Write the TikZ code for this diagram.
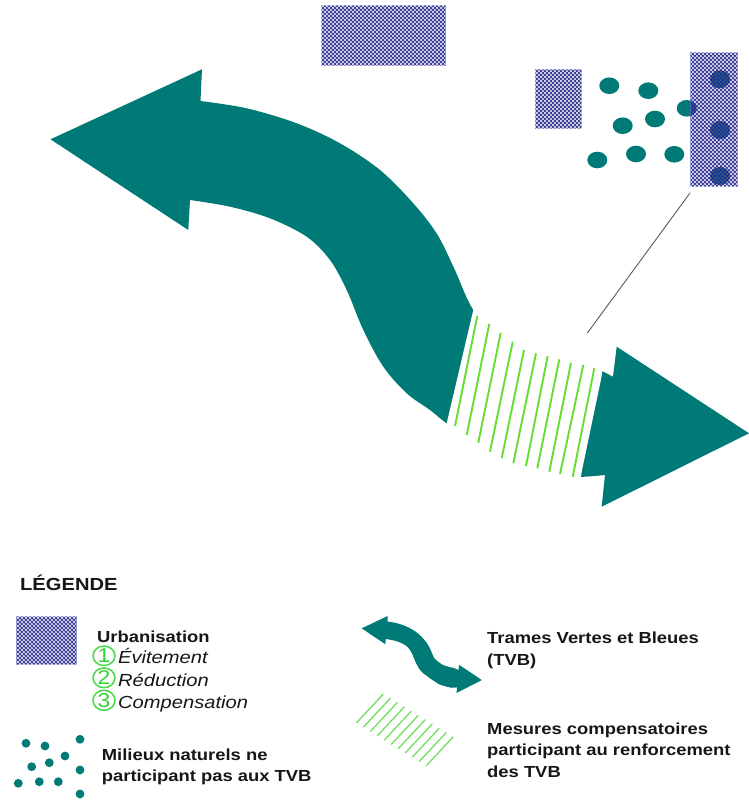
\documentclass[tikz,border=0pt]{standalone}
\usepackage{fontspec}
\setmainfont{Liberation Sans}[FakeStretch=1.15]
\usetikzlibrary{shapes.geometric,patterns.meta}

\definecolor{tealc}{RGB}{0,122,118}
\definecolor{urbblue}{RGB}{62,62,150}
\definecolor{urbedge}{RGB}{140,140,205}
\definecolor{navyc}{RGB}{15,50,130}
\definecolor{hatchg}{RGB}{100,222,50}
\definecolor{hatchl}{RGB}{115,222,95}
\definecolor{cgreen}{RGB}{50,210,50}
\definecolor{txt}{RGB}{22,22,22}
\definecolor{linegray}{RGB}{90,90,90}

\tikzdeclarepattern{
  name=urbdots,
  type=uncolored,
  bounding box={(0pt,0pt) and (4.4pt,4.4pt)},
  tile size={(4.4pt,4.4pt)},
  code={
    \pgfpathcircle{\pgfqpoint{1.1pt}{1.1pt}}{1.2pt}
    \pgfpathcircle{\pgfqpoint{3.3pt}{3.3pt}}{1.2pt}
    \pgfusepath{fill}
  }
}

\newcommand\tvbfullpath{%
  (50.5,139.3) -- (202,69.3) -- (200.5,101)
  -- plot[smooth,tension=0.55] coordinates {(200.5,101) (246.7,108.3) (296.7,123.3) (340,143.3) (380,170) (413,203) (437,234) (454,268) (473.3,310) (497,330) (524,348) (560,359) (590,366) (613,376.7)}
  -- (616.7,346.7) -- (749,433.3) -- (601.7,506.7) -- (605,475)
  -- plot[smooth,tension=0.55] coordinates {(605,475) (573,477) (549,472) (526,466) (502,458) (478,443) (446.7,423.3) (430,410) (406.7,393.3) (383.3,366.7) (363.3,330) (346.7,290) (330,260) (306.7,236.7) (270,218.3) (230,206.7) (190,200)}
  -- (188.3,230) -- cycle}

\begin{document}
\begin{tikzpicture}[x=1pt,y=-1pt,
  urb/.style={rectangle, fill=urbblue, draw=urbedge, line width=0.6pt,
    postaction={pattern=urbdots, pattern color=white}, inner sep=0pt},
  urbplain/.style={rectangle, fill=urbblue, inner sep=0pt},
  tdot/.style={ellipse, fill=tealc, inner sep=0pt, minimum width=20pt, minimum height=16.6pt},
  ldot/.style={circle, fill=tealc, inner sep=0pt, minimum size=8.8pt},
  hatchmain/.style={draw=hatchg, line width=1.9pt},
  hatchleg/.style={draw=hatchl, line width=1.3pt},
  lbl/.style={inner sep=0pt, anchor=base west, text=txt, font=\fontsize{16}{19}\selectfont\bfseries},
  ilbl/.style={inner sep=0pt, anchor=base west, text=txt, font=\fontsize{17.5}{20}\selectfont\itshape},
  circnum/.style={ellipse, draw=cgreen!85, line width=1.6pt, text=cgreen, inner sep=0pt,
    minimum width=22pt, minimum height=19.5pt, font=\fontsize{20}{20}\selectfont},
  grayline/.style={draw=linegray, line width=0.9pt}
]
\useasboundingbox (0,0) rectangle (749,803);

% ---------- main TVB arrow ----------
\fill[tealc] \tvbfullpath;
% gap for the compensation measures
\fill[white] (473.3,310) -- (480,290) -- (605,350) -- (601.7,376) -- (581.7,471.7)
  -- (578,495) -- (440,445) -- (446.7,423.3) -- cycle;
\foreach \ax/\ay/\bx/\by in {477.3/316/455/426, 489.3/324/466.7/435, 500.7/332.7/478.3/442.7,
  512.7/341.7/490/451.7, 524/350/501.7/458.3, 536/353.3/513.3/463.3, 547.7/356/526/466,
  559.3/359.3/537.3/468.3, 571/362.7/549.3/471.7, 583.3/365/560/474, 594.3/368.3/572.7/476.7}
  \draw[hatchmain] (\ax,\ay) -- (\bx,\by);

% ---------- urbanisation blocks ----------
\node[urb, minimum width=124pt, minimum height=60pt] (urbTop) at (383,35) {};
\node[urb, minimum width=46.7pt, minimum height=59pt] (urbSmall) at (558.3,98.8) {};

% natural areas (dots)
\node[tdot] (d1) at (609.3,85.7) {};
\node[tdot] (d2) at (648.3,90.7) {};
\node[tdot] (d3) at (686.7,108.3) {};
\node[tdot] (d4) at (622.7,125.7) {};
\node[tdot] (d5) at (655,119) {};
\node[tdot] (d6) at (597.3,160) {};
\node[tdot] (d7) at (636,154) {};
\node[tdot] (d8) at (674.3,154.3) {};

% tall block with dots underneath
\node[urb, minimum width=46.6pt, minimum height=134pt] (urbRight) at (714,119.7) {};
\begin{scope}
  \clip (urbRight.south west) rectangle (urbRight.north east);
  \fill[navyc, opacity=0.8] (686.7,108.3) ellipse [x radius=10, y radius=8.3];
  \fill[navyc, opacity=0.8] (720,79.3) ellipse [x radius=10, y radius=9];
  \fill[navyc, opacity=0.8] (720,130) ellipse [x radius=10, y radius=9];
  \fill[navyc, opacity=0.8] (720,176) ellipse [x radius=10, y radius=9];
\end{scope}

\coordinate (lineA) at (690,193);
\coordinate (lineB) at (587.4,333);
\draw[grayline] (lineA) -- (lineB);

% ---------- legend ----------
\node[lbl, font=\fontsize{17.5}{20}\selectfont\bfseries] (legTitle) at (20,590) {LÉGENDE};

\node[urb, minimum width=59.3pt, minimum height=48pt] (legUrb) at (46.35,640) {};
\node[lbl] (tUrb) at (97,642) {Urbanisation};
\node[circnum] (n1) at (104,655.8) {1};
\node[circnum] (n2) at (104,677.8) {2};
\node[circnum] (n3) at (104,700.3) {3};
\node[ilbl] (tEvit) at (118,663.5) {Évitement};
\node[ilbl] (tRed) at (118,686) {Réduction};
\node[ilbl] (tComp) at (118,708.3) {Compensation};

\node[ldot] (l1) at (26,743.3) {};
\node[ldot] (l2) at (45,746) {};
\node[ldot] (l3) at (80,739.3) {};
\node[ldot] (l4) at (65,756) {};
\node[ldot] (l5) at (31.7,766.7) {};
\node[ldot] (l6) at (49.3,762.7) {};
\node[ldot] (l7) at (80,770) {};
\node[ldot] (l8) at (18.3,783.3) {};
\node[ldot] (l9) at (39.3,781.7) {};
\node[ldot] (l10) at (58.3,781.7) {};
\node[ldot] (l11) at (80,794) {};
\node[lbl] (tMil1) at (101.7,760) {Milieux naturels ne};
\node[lbl] (tMil2) at (101.7,781.5) {participant pas aux TVB};

\begin{scope}[shift={(353,603.8)}, xscale=0.172, yscale=0.176]
  \fill[tealc] \tvbfullpath;
\end{scope}
\node[lbl] (tTvb1) at (487,643) {Trames Vertes et Bleues};
\node[lbl] (tTvb2) at (487,665) {(TVB)};

\foreach \i in {0,...,10}
  \draw[hatchleg] ({383.3+7*\i},{694+4.27*\i}) -- ++(-27,29);
\node[lbl] (tMes1) at (487,734) {Mesures compensatoires};
\node[lbl] (tMes2) at (487,755.5) {participant au renforcement};
\node[lbl] (tMes3) at (487,777) {des TVB};
\end{tikzpicture}
\end{document}
